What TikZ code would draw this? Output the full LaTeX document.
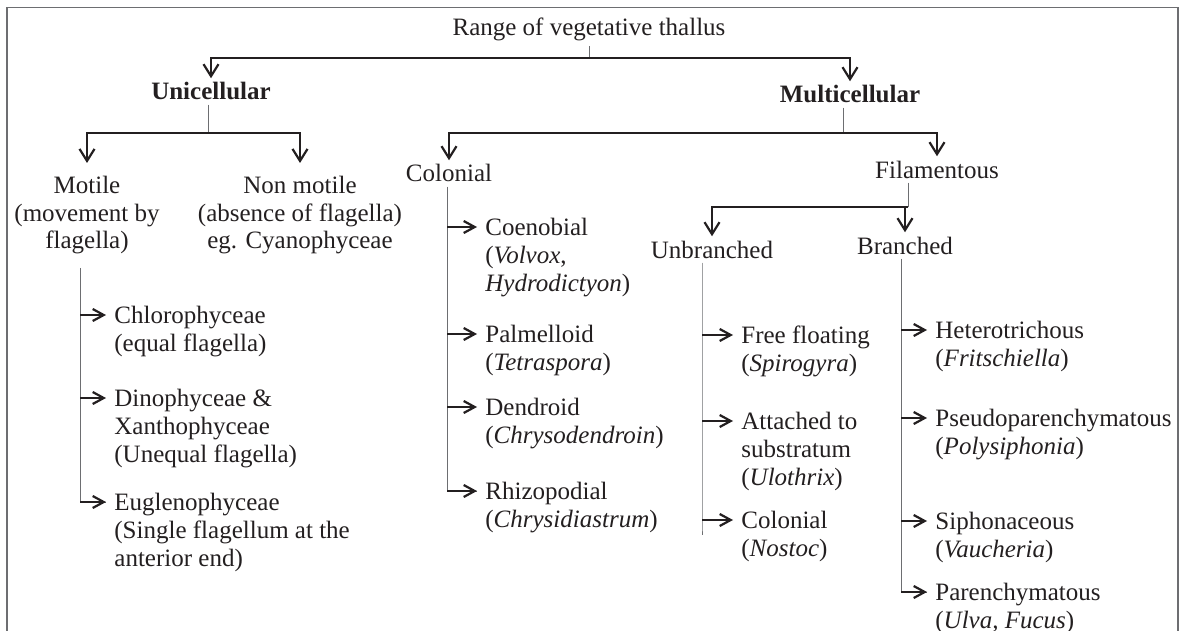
\documentclass[tikz,border=0pt]{standalone}
\usepackage{fontspec}
\setmainfont{Liberation Serif}
\usetikzlibrary{arrows.meta}
\definecolor{ink}{HTML}{231F20}
\definecolor{rule}{HTML}{6D6E71}
\newcommand{\leftstack}[1]{\begin{tabular}[t]{@{}l@{}}#1\end{tabular}}
\newcommand{\centerstack}[1]{\begin{tabular}[t]{@{}c@{}}#1\end{tabular}}
\begin{document}
\begin{tikzpicture}[x=0.5pt,y=-0.5pt,
	every node/.style={font=\fontsize{12.5}{14}\selectfont,text=ink},
	group/.style={inner sep=2pt,anchor=base},
	groupB/.style={group,font=\fontsize{12.5}{14}\selectfont\bfseries},
	leaf/.style={anchor=base west,inner sep=4pt},
	link/.style={-{Straight Barb[length=6pt,width=7.5pt]},line width=1.1pt,color=ink},
	pointer/.style={-{Straight Barb[length=5.5pt,width=6pt]},line width=1.1pt,color=ink},
	stem/.style={line width=0.5pt,color=rule},
	outline/.style={line width=0.8pt,color=rule}]
	\useasboundingbox (0,0) rectangle (1184,631);
	\draw[outline] (7,631) -- (7,7.5) -- (1178,7.5) -- (1178,631);

	\node[group] (range) at (589,36) {Range of vegetative thallus};
	\node[groupB] (uni) at (211,100) {Unicellular};
	\node[groupB] (multi) at (850,103) {Multicellular};
	\node[group,inner ysep=5pt] (motile) at (87,193) {\centerstack{Motile\\(movement by\\flagella)}};
	\node[group,inner ysep=5pt] (nonmotile) at (300,193) {\centerstack{Non motile\\(absence of flagella)\\eg. Cyanophyceae}};
	\node[group] (colonial) at (449,182) {Colonial};
	\node[group] (filament) at (937,178) {Filamentous};
	\node[group] (unbr) at (712,258) {Unbranched};
	\node[group] (branch) at (905,254) {Branched};

	\node[leaf] (chloro) at (106,323) {\leftstack{Chlorophyceae\\(equal flagella)}};
	\node[leaf] (dino) at (106,406) {\leftstack{Dinophyceae \&\\Xanthophyceae\\(Unequal flagella)}};
	\node[leaf] (eugleno) at (106,510) {\leftstack{Euglenophyceae\\(Single flagellum at the\\anterior end)}};

	\node[leaf] (coeno) at (477,235) {\leftstack{Coenobial\\(\textit{Volvox},\\\textit{Hydrodictyon})}};
	\node[leaf] (palm) at (477,342) {\leftstack{Palmelloid\\(\textit{Tetraspora})}};
	\node[leaf] (dendro) at (477,415) {\leftstack{Dendroid\\(\textit{Chrysodendroin})}};
	\node[leaf] (rhizo) at (477,499) {\leftstack{Rhizopodial\\(\textit{Chrysidiastrum})}};

	\node[leaf] (free) at (733,343) {\leftstack{Free floating\\(\textit{Spirogyra})}};
	\node[leaf] (attach) at (733,429) {\leftstack{Attached to\\substratum\\(\textit{Ulothrix})}};
	\node[leaf] (colony) at (733,528) {\leftstack{Colonial\\(\textit{Nostoc})}};

	\node[leaf] (hetero) at (927,338) {\leftstack{Heterotrichous\\(\textit{Fritschiella})}};
	\node[leaf] (pseudo) at (927,426) {\leftstack{Pseudoparenchymatous\\(\textit{Polysiphonia})}};
	\node[leaf] (sipho) at (927,529) {\leftstack{Siphonaceous\\(\textit{Vaucheria})}};
	\node[leaf] (paren) at (927,600) {\leftstack{Parenchymatous\\(\textit{Ulva, Fucus})}};

	\coordinate (j1) at (589,58);
	\coordinate (j2) at (208,133);
	\coordinate (j3) at (843,133);
	\coordinate (j4) at (908,207);
	\draw[stem] (range.south -| j1) -- (j1);
	\draw[link] (j1) -| (uni.north);
	\draw[link] (j1) -| (multi.north);
	\draw[stem] (uni.south -| j2) -- (j2);
	\draw[link] (j2) -| (motile.north);
	\draw[link] (j2) -| (nonmotile.north);
	\draw[stem] (multi.south -| j3) -- (j3);
	\draw[link] (j3) -| (colonial.north);
	\draw[link] (j3) -| (filament.north);
	\draw[stem] (filament.south -| j4) -- (j4);
	\draw[link] (j4) -| (unbr.north);
	\draw[link] (j4) -| (branch.north);

	\coordinate (s1) at (80,0);
	\coordinate (s2) at (447,0);
	\coordinate (s3) at (702,0);
	\coordinate (s4) at (901,0);
	\draw[stem] (motile.south -| s1) |- ([yshift=4pt]eugleno.base west);
	\draw[stem] (colonial.south -| s2) |- ([yshift=4pt]rhizo.base west);
	\draw[stem] (unbr.south -| s3) -- (s3 |- colony.base) -- ++(0,7);
	\draw[stem] (branch.south -| s4) |- ([yshift=4pt]paren.base west);
	\foreach \n in {chloro,dino,eugleno}
		\draw[pointer] (s1 |- \n.base) ++(0,-8) -- ([yshift=4pt]\n.base west);
	\foreach \n in {coeno,palm,dendro,rhizo}
		\draw[pointer] (s2 |- \n.base) ++(0,-8) -- ([yshift=4pt]\n.base west);
	\foreach \n in {free,attach,colony}
		\draw[pointer] (s3 |- \n.base) ++(0,-8) -- ([yshift=4pt]\n.base west);
	\foreach \n in {hetero,pseudo,sipho,paren}
		\draw[pointer] (s4 |- \n.base) ++(0,-8) -- ([yshift=4pt]\n.base west);
\end{tikzpicture}
\end{document}
